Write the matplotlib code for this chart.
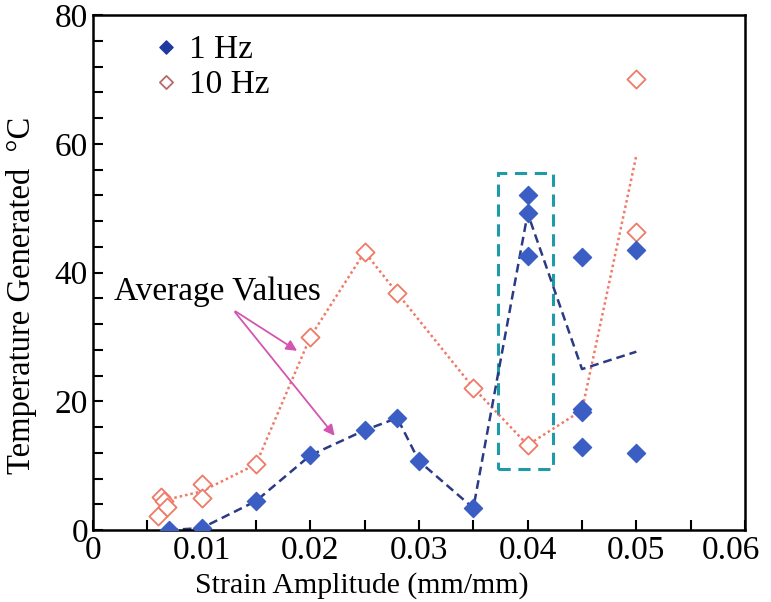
import matplotlib
matplotlib.use("Agg")
import matplotlib.pyplot as plt
from matplotlib.patches import Rectangle
from matplotlib.transforms import ScaledTranslation

plt.rcParams['font.family'] = ['Liberation Serif', 'DejaVu Serif']

# 1 Hz measurements
strain_1hz = [0.007, 0.010, 0.015, 0.020, 0.025, 0.028, 0.030, 0.035,
              0.040, 0.040, 0.040, 0.045, 0.045, 0.045, 0.045, 0.050, 0.050]
temp_1hz = [0.0, 0.3, 4.5, 11.6, 15.5, 17.4, 10.7, 3.4,
            52.0, 49.2, 42.6, 42.4, 18.8, 18.4, 12.9, 43.5, 12.0]

# 1 Hz average curve
avg_strain_1hz = [0.007, 0.010, 0.015, 0.020, 0.025, 0.028, 0.030, 0.035, 0.040, 0.045, 0.050]
avg_temp_1hz = [0.0, 0.3, 4.5, 11.6, 15.5, 17.4, 10.7, 3.4, 49.2, 25.0, 27.7]

# 10 Hz measurements
strain_10hz = [0.0060, 0.0063, 0.0065, 0.0068, 0.010, 0.010, 0.015, 0.020,
               0.025, 0.028, 0.035, 0.040, 0.050, 0.050]
temp_10hz = [2.2, 5.1, 4.5, 3.5, 7.2, 5.0, 10.2, 30.0,
             43.2, 36.8, 22.1, 13.2, 70.1, 46.3]

# 10 Hz average curve
avg_strain_10hz = [0.0065, 0.010, 0.015, 0.020, 0.025, 0.028, 0.035, 0.040, 0.045, 0.050]
avg_temp_10hz = [4.6, 6.0, 10.2, 30.0, 43.2, 36.8, 22.1, 13.2, 18.6, 58.2]

x_ticks = [0, 0.01, 0.02, 0.03, 0.04, 0.05, 0.06]
x_tick_labels = ['0', '0.01', '0.02', '0.03', '0.04', '0.05', '0.06']
y_ticks = [0, 20, 40, 60, 80]

blue = '#3a5ec4'
navy = '#2b3a85'
salmon = '#f07a68'

fig = plt.figure(figsize=(7.71, 6.02), dpi=100)
ax = fig.add_axes([0.1206, 0.1196, 0.8457, 0.8554])

ax.plot(avg_strain_10hz, avg_temp_10hz, linestyle=(0, (1, 1.2)), color=salmon, lw=1.8, zorder=2)
ax.plot(avg_strain_1hz, avg_temp_1hz, linestyle=(0, (3.5, 2)), color=navy, lw=1.8, zorder=2)

ax.scatter(strain_10hz, temp_10hz, marker='D', s=85, facecolors='white',
           edgecolors=salmon, linewidths=1.3, zorder=3)
ax.scatter(strain_1hz, temp_1hz, marker='D', s=85, color=blue, zorder=4)

# dashed box around the 0.04 group
ax.add_patch(Rectangle((0.0373, 9.5), 0.005, 45.9, fill=False,
                       edgecolor='#1f9aa8', lw=2.2, linestyle=(0, (4, 2.5)), zorder=1))

# legend entries
ax.scatter([0.0067], [75.0], marker='D', s=45, color='#1f3a9e', clip_on=False)
ax.scatter([0.0067], [69.6], marker='D', s=45, facecolors='white',
           edgecolors='#b86a6a', linewidths=1.3, clip_on=False)
ax.text(0.0088, 74.6, '1 Hz', fontsize=24, va='center', ha='left')
ax.text(0.0088, 69.1, '10 Hz', fontsize=24, va='center', ha='left')

# annotation with two arrows
arrow = dict(arrowstyle='-|>', color='#d455b0', lw=1.3, mutation_scale=16)
ax.annotate('', xy=(0.0190, 27.6), xytext=(0.0129, 34.2), arrowprops=arrow)
ax.annotate('', xy=(0.0224, 14.3), xytext=(0.0129, 34.2), arrowprops=arrow)
ax.text(0.0019, 37.0, 'Average Values', fontsize=24, va='center', ha='left')

ax.set_xlim(0, 0.06)
ax.set_ylim(0, 80)
ax.set_xticks(x_ticks)
ax.set_xticklabels(x_tick_labels)
ax.set_yticks(y_ticks)
ax.set_xticks([0.005 * i for i in range(13)], minor=True)
ax.set_yticks(list(range(0, 81, 4)), minor=True)
ax.tick_params(which='both', direction='in', length=7, width=1.5, labelsize=24,
               top=False, right=False)
ax.tick_params(axis='x', pad=4)

# pull the last x label inside the figure
last = ax.get_xticklabels()[-1]
last.set_transform(last.get_transform() + ScaledTranslation(-0.14, 0, fig.dpi_scale_trans))

for s in ax.spines.values():
    s.set_linewidth(1.8)

ax.set_xlabel('Strain Amplitude (mm/mm)', fontsize=21.5)
ax.xaxis.set_label_coords(0.412, -0.082)
ax.set_ylabel('Temperature Generated  \u00b0C', fontsize=23.5)
ax.yaxis.set_label_coords(-0.086, 0.455)

fig.savefig('out.png', dpi=100)
